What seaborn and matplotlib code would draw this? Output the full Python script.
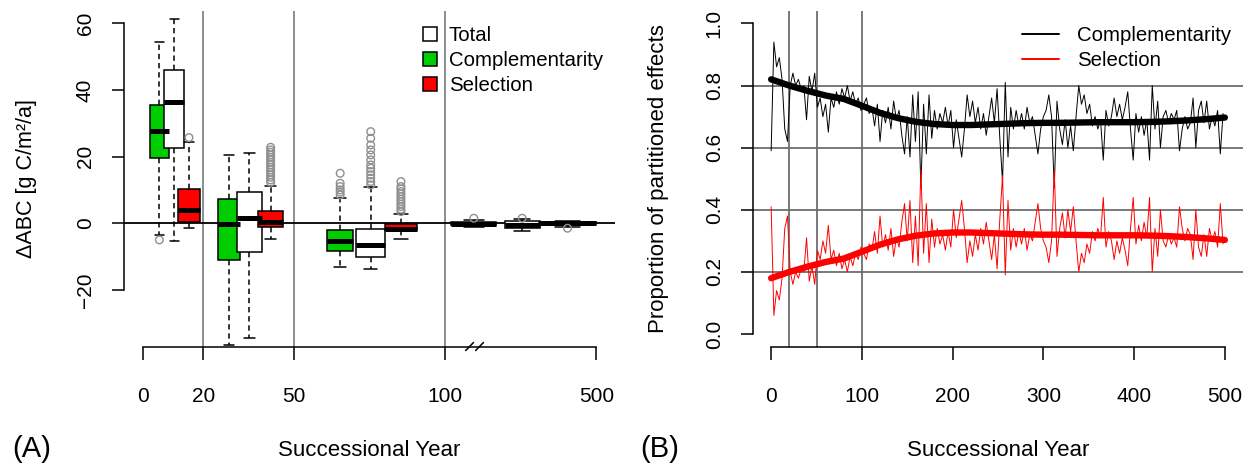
import numpy as np
import pandas as pd
import matplotlib
matplotlib.use("Agg")
import matplotlib.pyplot as plt
import seaborn as sns
from matplotlib.patches import Patch
from matplotlib.lines import Line2D

# ---------------- panel A : box summaries [whisker low, Q1, median, Q3, whisker high]
effects = ["Complementarity", "Total", "Selection"]
comp_box = [[-3.5, 19.7, 27.7, 35.5, 54.5],
            [-36.5, -11.0, -0.3, 7.3, 20.5],
            [-13.0, -8.2, -5.2, -2.0, 7.7],
            [-1.2, -0.6, -0.2, 0.3, 0.9]]
total_box = [[-5.2, 22.7, 36.5, 45.9, 61.2],
             [-34.5, -8.5, 1.7, 9.3, 21.2],
             [-13.8, -10.2, -6.5, -1.8, 10.8],
             [-2.2, -1.5, -0.4, 0.8, 1.2]]
sel_box = [[-1.3, 0.5, 4.0, 10.2, 24.5],
           [-4.7, -1.0, 0.5, 3.8, 11.2],
           [-4.7, -2.0, -1.6, -0.2, 2.7],
           [-1.0, -0.3, 0.0, 0.3, 0.8]]
comp_out = [[-5.0], [], [8.5, 9.3, 10.0, 11.0, 12.0, 15.0], [1.5]]
total_out = [[], [], [11.5, 12.5, 13.5, 14.5, 15.5, 16.5, 17.5, 19.0, 20.5, 22.0, 23.5, 25.5, 27.5], [1.5]]
sel_out = [[25.7],
           [12.3, 13.0, 13.8, 14.5, 15.3, 16.0, 16.8, 17.5, 18.3, 19.0, 19.8, 20.5, 21.3, 22.0, 22.8],
           [3.5, 4.2, 5.0, 5.7, 6.5, 7.2, 8.0, 8.8, 9.5, 10.3, 11.0, 12.5],
           [-1.5]]
year_ticks = ["0", "20", "50", "100", "500"]

# layout of the boxes on the broken axis (100-500 squeezed into 100-150)
box_pos = {"Complementarity": [5.5, 28.5, 65.3, 109.5],
           "Total": [10.4, 35.3, 75.4, 125.5],
           "Selection": [15.3, 42.3, 85.4, 140.5]}
box_wid = {"Complementarity": [6.3, 7.3, 8.6, 15.0],
           "Total": [6.6, 8.3, 9.6, 11.6],
           "Selection": [7.3, 8.3, 10.6, 19.0]}
box_col = {"Complementarity": "#00CD00", "Total": "white", "Selection": "#FF0000"}

# ---------------- panel B : proportions of partitioned effects
years = np.arange(0, 501, 3)
comp_raw = [0.59, 0.94, 0.86, 0.89, 0.82, 0.66, 0.62, 0.80, 0.84, 0.80, 0.82, 0.79, 0.80, 0.69, 0.83, 0.78, 0.84,
            0.73, 0.76, 0.70, 0.74, 0.65, 0.76, 0.73, 0.78, 0.74, 0.79, 0.76, 0.80, 0.75, 0.78, 0.74, 0.76, 0.72,
            0.74, 0.76, 0.71, 0.73, 0.67, 0.74, 0.62, 0.72, 0.68, 0.73, 0.66, 0.75, 0.69, 0.72, 0.64, 0.58, 0.70,
            0.57, 0.77, 0.62, 0.78, 0.47, 0.74, 0.58, 0.77, 0.63, 0.72, 0.66, 0.71, 0.68, 0.73, 0.67, 0.72, 0.60, 0.69,
            0.63, 0.57, 0.66, 0.77, 0.70, 0.75, 0.68, 0.73, 0.66, 0.71, 0.64, 0.70, 0.76, 0.68, 0.79, 0.63, 0.49,
            0.81, 0.57, 0.73, 0.66, 0.72, 0.67, 0.71, 0.66, 0.73, 0.68, 0.70, 0.64, 0.58, 0.66, 0.70, 0.72, 0.77, 0.70,
            0.47, 0.75, 0.66, 0.61, 0.69, 0.60, 0.67, 0.59, 0.70, 0.80, 0.74, 0.77, 0.71, 0.74, 0.67, 0.70, 0.66,
            0.69, 0.56, 0.72, 0.67, 0.70, 0.76, 0.70, 0.74, 0.69, 0.73, 0.78, 0.66, 0.56, 0.71, 0.65, 0.70, 0.64, 0.69,
            0.56, 0.80, 0.66, 0.75, 0.60, 0.70, 0.72, 0.68, 0.71, 0.69, 0.72, 0.59, 0.66, 0.70, 0.66, 0.68, 0.76,
            0.60, 0.72, 0.75, 0.68, 0.75, 0.66, 0.70, 0.67, 0.72, 0.58, 0.71]
sel_raw = [0.41, 0.06, 0.14, 0.11, 0.18, 0.34, 0.38, 0.20, 0.16, 0.20, 0.18, 0.21, 0.20, 0.31, 0.17, 0.22, 0.16,
           0.27, 0.24, 0.30, 0.26, 0.35, 0.24, 0.27, 0.22, 0.26, 0.21, 0.24, 0.20, 0.25, 0.22, 0.26, 0.24, 0.28,
           0.26, 0.24, 0.29, 0.27, 0.33, 0.26, 0.38, 0.28, 0.32, 0.27, 0.34, 0.25, 0.31, 0.28, 0.36, 0.42, 0.30,
           0.43, 0.23, 0.38, 0.22, 0.53, 0.26, 0.42, 0.23, 0.37, 0.28, 0.34, 0.29, 0.32, 0.27, 0.33, 0.28, 0.40, 0.31,
           0.37, 0.43, 0.34, 0.23, 0.30, 0.25, 0.32, 0.27, 0.34, 0.29, 0.36, 0.30, 0.24, 0.32, 0.21, 0.37, 0.51,
           0.19, 0.43, 0.27, 0.34, 0.28, 0.33, 0.29, 0.34, 0.27, 0.32, 0.30, 0.36, 0.42, 0.34, 0.30, 0.28, 0.23, 0.30,
           0.53, 0.25, 0.34, 0.39, 0.31, 0.40, 0.33, 0.41, 0.30, 0.20, 0.26, 0.23, 0.29, 0.26, 0.33, 0.30, 0.34,
           0.31, 0.44, 0.28, 0.33, 0.30, 0.24, 0.30, 0.26, 0.31, 0.27, 0.22, 0.34, 0.44, 0.29, 0.35, 0.30, 0.36, 0.31,
           0.44, 0.20, 0.34, 0.25, 0.40, 0.30, 0.28, 0.32, 0.29, 0.31, 0.28, 0.41, 0.34, 0.30, 0.34, 0.32, 0.24,
           0.40, 0.28, 0.25, 0.32, 0.25, 0.34, 0.30, 0.33, 0.28, 0.42, 0.29]
smooth_years = np.arange(0, 501, 20)
comp_smooth = [0.820, 0.800, 0.783, 0.768, 0.757, 0.735, 0.712, 0.695, 0.683, 0.676, 0.673, 0.673, 0.675,
               0.677, 0.679, 0.680, 0.680, 0.681, 0.682, 0.682, 0.682, 0.683, 0.685, 0.688, 0.692, 0.697]
sel_smooth = [0.180, 0.200, 0.217, 0.232, 0.243, 0.265, 0.288, 0.305, 0.317, 0.324, 0.327, 0.327, 0.325,
              0.323, 0.321, 0.320, 0.320, 0.319, 0.318, 0.318, 0.318, 0.317, 0.315, 0.312, 0.308, 0.303]

sns.set_theme(style="white")
plt.rcParams['font.family'] = ['Liberation Sans', 'DejaVu Sans']
plt.rcParams.update({"text.color": "black", "axes.labelcolor": "black",
                     "xtick.color": "black", "ytick.color": "black"})
FS = 15     # tick labels
LS = 16     # axis titles
LG = 14.7   # legends
W, H = 1254, 466
fig = plt.figure(figsize=(W / 100, H / 100), dpi=100)

def px_rect(x0, y0, x1, y1):
    return [x0 / W, 1 - y1 / H, (x1 - x0) / W, (y1 - y0) / H]

def r_axes(ax):
    sns.despine(ax=ax)
    ax.tick_params(axis="both", direction="out", length=9, width=1.1, color="black",
                   labelcolor="black", labelsize=FS, left=True, bottom=True)
    ax.tick_params(axis="x", pad=20)
    ax.tick_params(axis="y", pad=12)
    for s in ["left", "bottom"]:
        ax.spines[s].set_color("black")
        ax.spines[s].set_linewidth(1.1)
    for lab in ax.get_yticklabels():
        lab.set_rotation(90)
        lab.set_va("center")
    ax.set_xlabel("")
    ax.set_ylabel("")

# ---------------- panel A
axA = fig.add_axes(px_rect(124, 11, 615, 346.5))
grey = "#858585"
for v in [20, 50, 100]:
    axA.axvline(v, color=grey, lw=1.3, zorder=0)
axA.axhline(0, color="black", lw=1.3, zorder=0.5)

stats_by = {"Complementarity": comp_box, "Total": total_box, "Selection": sel_box}
outs_by = {"Complementarity": comp_out, "Total": total_out, "Selection": sel_out}
for i in range(4):
    for eff in effects:
        p, w = box_pos[eff][i], box_wid[eff][i]
        d = pd.DataFrame({"pos": [p] * 5, "val": stats_by[eff][i]})
        sns.boxplot(data=d, x="pos", y="val", native_scale=True, orient="x", width=w,
                    whis=(0, 100), color=box_col[eff], saturation=1, linecolor="black",
                    linewidth=1.1, showfliers=False, capwidths=w * 0.45,
                    whiskerprops=dict(linestyle=(0, (3.5, 2.5))),
                    medianprops=dict(linewidth=3.6), ax=axA)
        o = outs_by[eff][i]
        if o:
            sns.scatterplot(x=[p] * len(o), y=o, marker="o", s=30, facecolor="none",
                            edgecolor="#8f8f8f", linewidth=1.0, ax=axA, zorder=3)

axA.set_xlim(-6.2, 156.2)
axA.set_ylim(-37.0, 63.7)
axA.set_xticks([0, 20, 50, 100, 150])
axA.set_xticklabels(year_ticks)
axA.set_yticks([-20, 0, 20, 40, 60])
axA.spines["bottom"].set_bounds(0, 150)
axA.spines["left"].set_bounds(-20, 60)
r_axes(axA)
# axis break marks
tr = axA.get_xaxis_transform()
for x0 in [106.8, 110.1]:
    axA.plot([x0, x0 + 2.6], [-0.012, 0.012], color="black", lw=1.1, transform=tr, clip_on=False)

legA = [Patch(facecolor=box_col[e], edgecolor="black", linewidth=1.1) for e in ["Total", "Complementarity", "Selection"]]
fig.legend(legA, ["Total", "Complementarity", "Selection"], loc="upper left",
           bbox_to_anchor=(423 / W, 1 - 26 / H), frameon=False, fontsize=LG,
           handlelength=0.69, handleheight=0.69, handletextpad=0.58, labelspacing=0.3,
           borderpad=0, borderaxespad=0)

# ---------------- panel B
axB = fig.add_axes(px_rect(753, 11, 1243, 346.5))
gline = "#6e6e6e"
for v in [20, 50, 100]:
    axB.axvline(v, color=gline, lw=1.3, zorder=0)
for h in [0.2, 0.4, 0.6, 0.8]:
    axB.axhline(h, color=gline, lw=1.3, zorder=0)
sns.lineplot(x=years, y=comp_raw, color="black", lw=0.7, ax=axB)
sns.lineplot(x=years, y=sel_raw, color="red", lw=0.7, ax=axB)
sns.lineplot(x=smooth_years, y=comp_smooth, color="black", lw=4.6, ax=axB)
sns.lineplot(x=smooth_years, y=sel_smooth, color="red", lw=4.6, ax=axB)
axB.set_xlim(-20, 520)
axB.set_ylim(-0.04, 1.04)
axB.set_xticks([0, 100, 200, 300, 400, 500])
axB.set_yticks([0.0, 0.2, 0.4, 0.6, 0.8, 1.0])
axB.set_yticklabels(["0.0", "0.2", "0.4", "0.6", "0.8", "1.0"])
axB.spines["bottom"].set_bounds(0, 500)
axB.spines["left"].set_bounds(0, 1)
r_axes(axB)
legB = [Line2D([], [], color="black", lw=1.4), Line2D([], [], color="red", lw=1.4)]
fig.legend(legB, ["Complementarity", "Selection"], loc="upper left",
           bbox_to_anchor=(1022 / W, 1 - 26 / H), frameon=False, fontsize=LG,
           handlelength=1.81, handletextpad=0.88, labelspacing=0.3,
           borderpad=0, borderaxespad=0)

# ---------------- labels
fig.text(27 / W, 1 - 178.5 / H, "ΔABC [g C/m²/a]", rotation=90, ha="center", va="center", fontsize=15.5)
fig.text(659 / W, 1 - 178.5 / H, "Proportion of partitioned effects", rotation=90,
         ha="center", va="center", fontsize=LS)
fig.text(369.5 / W, 1 - 450 / H, "Successional Year", ha="center", va="center", fontsize=LS)
fig.text(998 / W, 1 - 450 / H, "Successional Year", ha="center", va="center", fontsize=LS)
fig.text(32 / W, 1 - 449 / H, "(A)", ha="center", va="center", fontsize=21)
fig.text(660 / W, 1 - 449 / H, "(B)", ha="center", va="center", fontsize=21)

fig.savefig("out.png", dpi=100)
